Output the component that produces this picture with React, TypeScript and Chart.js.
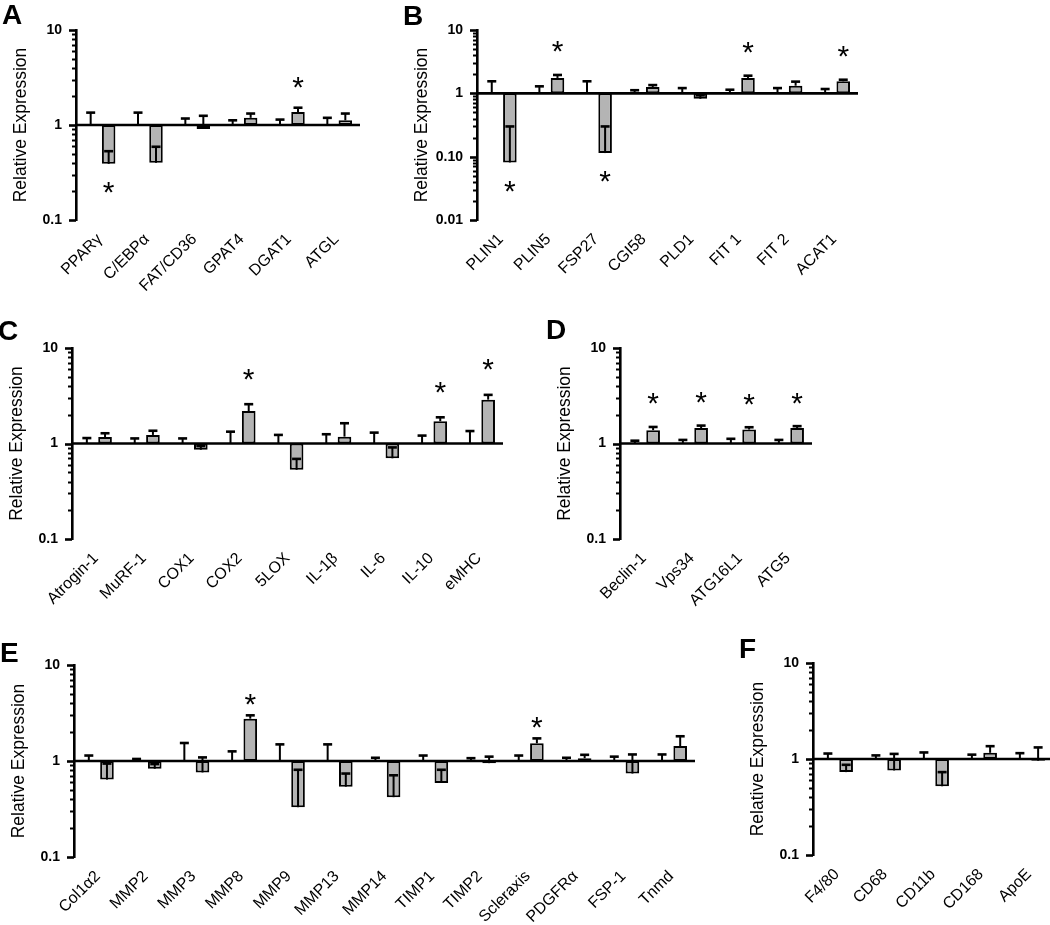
import React, { useEffect, useRef } from 'react';
import { Chart, registerables } from 'chart.js';

Chart.register(...registerables);

const FONT = "'Liberation Sans', Arial, Helvetica, sans-serif";

// ---------- Panel A ----------
const aCategories = ['PPARγ', 'C/EBPα', 'FAT/CD36', 'GPAT4', 'DGAT1', 'ATGL'];
const aControl = [1, 1, 1, 1, 1, 1];
const aControlErr = [1.35, 1.35, 1.17, 1.12, 1.14, 1.19];
const aTreated = [0.39, 0.40, 0.91, 1.19, 1.37, 1.12];
const aTreatedErr = [0.53, 0.59, 1.25, 1.32, 1.52, 1.32];
const aStars = ['below', '', '', '', 'above', ''];
const aYTicks = [0.1, 1, 10];
const aYLabels = ['0.1', '1', '10'];

// ---------- Panel B ----------
const bCategories = ['PLIN1', 'PLIN5', 'FSP27', 'CGI58', 'PLD1', 'FIT 1', 'FIT 2', 'ACAT1'];
const bControl = [1, 1, 1, 1, 1, 1, 1, 1];
const bControlErr = [1.55, 1.29, 1.55, 1.12, 1.21, 1.14, 1.21, 1.17];
const bTreated = [0.081, 1.75, 0.114, 1.26, 0.82, 1.75, 1.32, 1.55];
const bTreatedErr = [0.30, 1.95, 0.30, 1.35, 0.93, 1.90, 1.53, 1.64];
const bStars = ['below', 'above', 'below', '', '', 'above', '', 'above'];
const bYTicks = [0.01, 0.1, 1, 10];
const bYLabels = ['0.01', '0.10', '1', '10'];

// ---------- Panel C ----------
const cCategories = ['Atrogin-1', 'MuRF-1', 'COX1', 'COX2', '5LOX', 'IL-1β', 'IL-6', 'IL-10', 'eMHC'];
const cControl = [1, 1, 1, 1, 1, 1, 1, 1, 1];
const cControlErr = [1.14, 1.13, 1.13, 1.33, 1.23, 1.25, 1.30, 1.21, 1.35];
const cTreated = [1.17, 1.23, 0.86, 2.19, 0.53, 1.18, 0.70, 1.71, 2.88];
const cTreatedErr = [1.28, 1.36, 0.94, 2.58, 0.69, 1.63, 0.91, 1.88, 3.23];
const cStars = ['', '', '', 'above', '', '', '', 'above', 'above'];
const cYTicks = [0.1, 1, 10];
const cYLabels = ['0.1', '1', '10'];

// ---------- Panel D ----------
const dCategories = ['Beclin-1', 'Vps34', 'ATG16L1', 'ATG5'];
const dControl = [1, 1, 1, 1];
const dControlErr = [1.07, 1.09, 1.12, 1.09];
const dTreated = [1.38, 1.45, 1.40, 1.45];
const dTreatedErr = [1.49, 1.54, 1.48, 1.52];
const dStars = ['above', 'above', 'above', 'above'];
const dYTicks = [0.1, 1, 10];
const dYLabels = ['0.1', '1', '10'];

// ---------- Panel E ----------
const eCategories = ['Col1α2', 'MMP2', 'MMP3', 'MMP8', 'MMP9', 'MMP13', 'MMP14', 'TIMP1', 'TIMP2', 'Scleraxis', 'PDGFRα', 'FSP-1', 'Tnmd'];
const eControl = [1, 1, 1, 1, 1, 1, 1, 1, 1, 1, 1, 1, 1];
const eControlErr = [1.14, 1.05, 1.54, 1.26, 1.49, 1.49, 1.08, 1.14, 1.07, 1.14, 1.08, 1.11, 1.17];
const eTreated = [0.64, 0.83, 0.76, 2.76, 0.33, 0.54, 0.42, 0.59, 0.95, 1.53, 1.07, 0.74, 1.43];
const eTreatedErr = [0.94, 0.93, 1.09, 2.99, 0.81, 0.74, 0.71, 0.81, 1.11, 1.72, 1.16, 1.17, 1.81];
const eStars = ['', '', '', 'above', '', '', '', '', '', 'above', '', '', ''];
const eYTicks = [0.1, 1, 10];
const eYLabels = ['0.1', '1', '10'];

// ---------- Panel F ----------
const fCategories = ['F4/80', 'CD68', 'CD11b', 'CD168', 'ApoE'];
const fControl = [1, 1, 1, 1, 1];
const fControlErr = [1.14, 1.09, 1.17, 1.11, 1.15];
const fTreated = [0.73, 0.76, 0.52, 1.16, 0.96];
const fTreatedErr = [0.87, 1.13, 0.73, 1.36, 1.32];
const fStars = ['', '', '', '', ''];
const fYTicks = [0.1, 1, 10];
const fYLabels = ['0.1', '1', '10'];

type Box = { left: number; top: number; width: number; height: number };
type Area = { left: number; right: number; top: number; bottom: number };
type PanelCfg = {
  letter: string;
  categories: string[];
  control: number[];
  controlErr: number[];
  treated: number[];
  treatedErr: number[];
  stars: string[];
  yTicks: number[];
  yLabels: string[];
  canvas: Box;
  area: Area;
  letterBaseline: number;
  starAbove: number;
  starBelow: number;
};

const panels: PanelCfg[] = [
  {
    letter: 'A', categories: aCategories, control: aControl, controlErr: aControlErr,
    treated: aTreated, treatedErr: aTreatedErr, stars: aStars, yTicks: aYTicks, yLabels: aYLabels,
    canvas: { left: 0, top: 0, width: 375, height: 298 },
    area: { left: 76, right: 360, top: 30, bottom: 220 },
    letterBaseline: 24, starAbove: 28, starBelow: 21,
  },
  {
    letter: 'B', categories: bCategories, control: bControl, controlErr: bControlErr,
    treated: bTreated, treatedErr: bTreatedErr, stars: bStars, yTicks: bYTicks, yLabels: bYLabels,
    canvas: { left: 390, top: 0, width: 478, height: 298 },
    area: { left: 477, right: 858, top: 30, bottom: 220 },
    letterBaseline: 25, starAbove: 31, starBelow: 21,
  },
  {
    letter: 'C', categories: cCategories, control: cControl, controlErr: cControlErr,
    treated: cTreated, treatedErr: cTreatedErr, stars: cStars, yTicks: cYTicks, yLabels: cYLabels,
    canvas: { left: 0, top: 300, width: 515, height: 318 },
    area: { left: 72, right: 503, top: 348, bottom: 539 },
    letterBaseline: 340, starAbove: 33, starBelow: 21,
  },
  {
    letter: 'D', categories: dCategories, control: dControl, controlErr: dControlErr,
    treated: dTreated, treatedErr: dTreatedErr, stars: dStars, yTicks: dYTicks, yLabels: dYLabels,
    canvas: { left: 535, top: 300, width: 290, height: 318 },
    area: { left: 620, right: 812, top: 348, bottom: 539 },
    letterBaseline: 339, starAbove: 31, starBelow: 21,
  },
  {
    letter: 'E', categories: eCategories, control: eControl, controlErr: eControlErr,
    treated: eTreated, treatedErr: eTreatedErr, stars: eStars, yTicks: eYTicks, yLabels: eYLabels,
    canvas: { left: 0, top: 620, width: 710, height: 305 },
    area: { left: 74, right: 695, top: 665, bottom: 857 },
    letterBaseline: 662, starAbove: 19, starBelow: 21,
  },
  {
    letter: 'F', categories: fCategories, control: fControl, controlErr: fControlErr,
    treated: fTreated, treatedErr: fTreatedErr, stars: fStars, yTicks: fYTicks, yLabels: fYLabels,
    canvas: { left: 725, top: 620, width: 336, height: 305 },
    area: { left: 813, right: 1053, top: 663, bottom: 855 },
    letterBaseline: 658, starAbove: 28, starBelow: 21,
  },
];

const GRAY = '#b4b4b4';

function makePlugin(p: PanelCfg) {
  return {
    id: 'decor' + p.letter,
    afterDatasetsDraw(chart: any) {
      const ctx = chart.ctx;
      const ys = chart.scales.y;
      const area = chart.chartArea;
      ctx.save();
      ctx.strokeStyle = '#000';
      ctx.lineCap = 'butt';
      // baseline at 1
      const by = ys.getPixelForValue(1);
      ctx.lineWidth = 2.6;
      ctx.beginPath();
      ctx.moveTo(area.left, by);
      ctx.lineTo(area.right, by);
      ctx.stroke();
      // error bars
      const series: [number[], number[]][] = [
        [p.control, p.controlErr],
        [p.treated, p.treatedErr],
      ];
      series.forEach(([means, errs], di) => {
        const meta = chart.getDatasetMeta(di);
        meta.data.forEach((el: any, i: number) => {
          const x = el.x;
          const y0 = ys.getPixelForValue(means[i]);
          const y1 = ys.getPixelForValue(errs[i]);
          ctx.lineWidth = 2;
          ctx.beginPath();
          ctx.moveTo(x, y0);
          ctx.lineTo(x, y1);
          ctx.stroke();
          ctx.lineWidth = 2.6;
          ctx.beginPath();
          ctx.moveTo(x - 4.5, y1);
          ctx.lineTo(x + 4.5, y1);
          ctx.stroke();
        });
      });
      ctx.restore();
    },
    afterDraw(chart: any) {
      const ctx = chart.ctx;
      const ys = chart.scales.y;
      const area = chart.chartArea;
      const c = p.canvas;
      ctx.save();
      ctx.strokeStyle = '#000';
      ctx.fillStyle = '#000';
      // y-axis tick marks (major + minor, log scale)
      const lo = Math.round(Math.log10(p.yTicks[0]));
      const hi = Math.round(Math.log10(p.yTicks[p.yTicks.length - 1]));
      for (let e = lo; e <= hi; e++) {
        for (let k = 1; k <= 9; k++) {
          if (e === hi && k > 1) break;
          const v = k * Math.pow(10, e);
          const py = Math.round(ys.getPixelForValue(v)) + 0.5;
          const len = k === 1 ? 7 : 4;
          ctx.lineWidth = k === 1 ? 2.6 : 2;
          ctx.beginPath();
          ctx.moveTo(area.left, py);
          ctx.lineTo(area.left - len, py);
          ctx.stroke();
        }
      }
      // panel letter
      ctx.font = `bold 28px ${FONT}`;
      ctx.textAlign = 'left';
      ctx.textBaseline = 'alphabetic';
      ctx.fillText(p.letter, area.left - 74, p.letterBaseline - c.top);
      // y title
      ctx.save();
      ctx.translate(area.left - 55, (area.top + area.bottom) / 2);
      ctx.rotate(-Math.PI / 2);
      ctx.font = `17.5px ${FONT}`;
      ctx.textAlign = 'center';
      ctx.textBaseline = 'middle';
      ctx.fillText('Relative Expression', 0, 0);
      ctx.restore();
      // significance stars
      const meta = chart.getDatasetMeta(1);
      const fs = 30;
      ctx.font = `${fs}px ${FONT}`;
      ctx.textAlign = 'center';
      ctx.textBaseline = 'alphabetic';
      p.stars.forEach((s, i) => {
        if (!s) return;
        const x = meta.data[i].x;
        let cy: number;
        if (s === 'above') cy = ys.getPixelForValue(p.treatedErr[i]) - p.starAbove;
        else cy = ys.getPixelForValue(p.treated[i]) + p.starBelow;
        ctx.fillText('*', x, cy + 0.58 * fs);
      });
      ctx.restore();
    },
  };
}

function Panel({ p }: { p: PanelCfg }) {
  const ref = useRef<HTMLCanvasElement | null>(null);
  useEffect(() => {
    if (!ref.current) return;
    const c = p.canvas;
    const a = p.area;
    const chart = new Chart(ref.current, {
      type: 'bar',
      data: {
        labels: p.categories,
        datasets: [
          {
            label: 'Control',
            data: p.control.map((v) => [1, v]) as any,
            backgroundColor: '#ffffff',
            borderColor: '#000',
            borderWidth: 2,
            borderSkipped: false,
            categoryPercentage: 0.76,
            barPercentage: 0.75,
          },
          {
            label: 'Treated',
            data: p.treated.map((v) => [1, v]) as any,
            backgroundColor: GRAY,
            borderColor: '#000',
            borderWidth: 2,
            borderSkipped: false,
            categoryPercentage: 0.76,
            barPercentage: 0.75,
          },
        ],
      },
      options: {
        responsive: false,
        animation: false,
        devicePixelRatio: 1,
        layout: {
          padding: {
            left: 0,
            top: a.top - c.top,
            right: c.left + c.width - a.right,
            bottom: 0,
          },
        },
        plugins: {
          legend: { display: false },
          tooltip: { enabled: false },
          title: { display: false },
        },
        scales: {
          x: {
            type: 'category',
            offset: true,
            grid: { display: false },
            border: { display: false },
            ticks: {
              color: '#000',
              font: { family: FONT, size: 16 },
              minRotation: 45,
              maxRotation: 45,
              autoSkip: false,
              padding: 2,
            },
            afterFit: (s: any) => {
              s.height = c.top + c.height - a.bottom;
            },
          },
          y: {
            type: 'logarithmic',
            min: p.yTicks[0],
            max: p.yTicks[p.yTicks.length - 1],
            grid: { display: false },
            border: { display: true, color: '#000', width: 2.6 },
            ticks: {
              color: '#000',
              font: { family: FONT, size: 14, weight: 'bold' },
              padding: 6,
              autoSkip: false,
              callback: (value: any) => {
                const idx = p.yTicks.findIndex((t) => Math.abs(t - Number(value)) / t < 1e-6);
                return idx >= 0 ? p.yLabels[idx] : '';
              },
            },
            afterBuildTicks: (s: any) => {
              s.ticks = p.yTicks.map((v) => ({ value: v }));
            },
            afterFit: (s: any) => {
              s.width = a.left - c.left;
            },
          },
        },
      } as any,
      plugins: [makePlugin(p)],
    });
    return () => chart.destroy();
  }, [p]);
  const c = p.canvas;
  return (
    <canvas
      ref={ref}
      width={c.width}
      height={c.height}
      style={{ position: 'absolute', left: c.left, top: c.top, width: c.width, height: c.height }}
    />
  );
}

export default function App() {
  return (
    <div
      style={{
        position: 'absolute',
        left: 0,
        top: 0,
        width: 1050,
        height: 925,
        overflow: 'hidden',
        background: '#fff',
      }}
    >
      {panels.map((p) => (
        <Panel key={p.letter} p={p} />
      ))}
    </div>
  );
}
